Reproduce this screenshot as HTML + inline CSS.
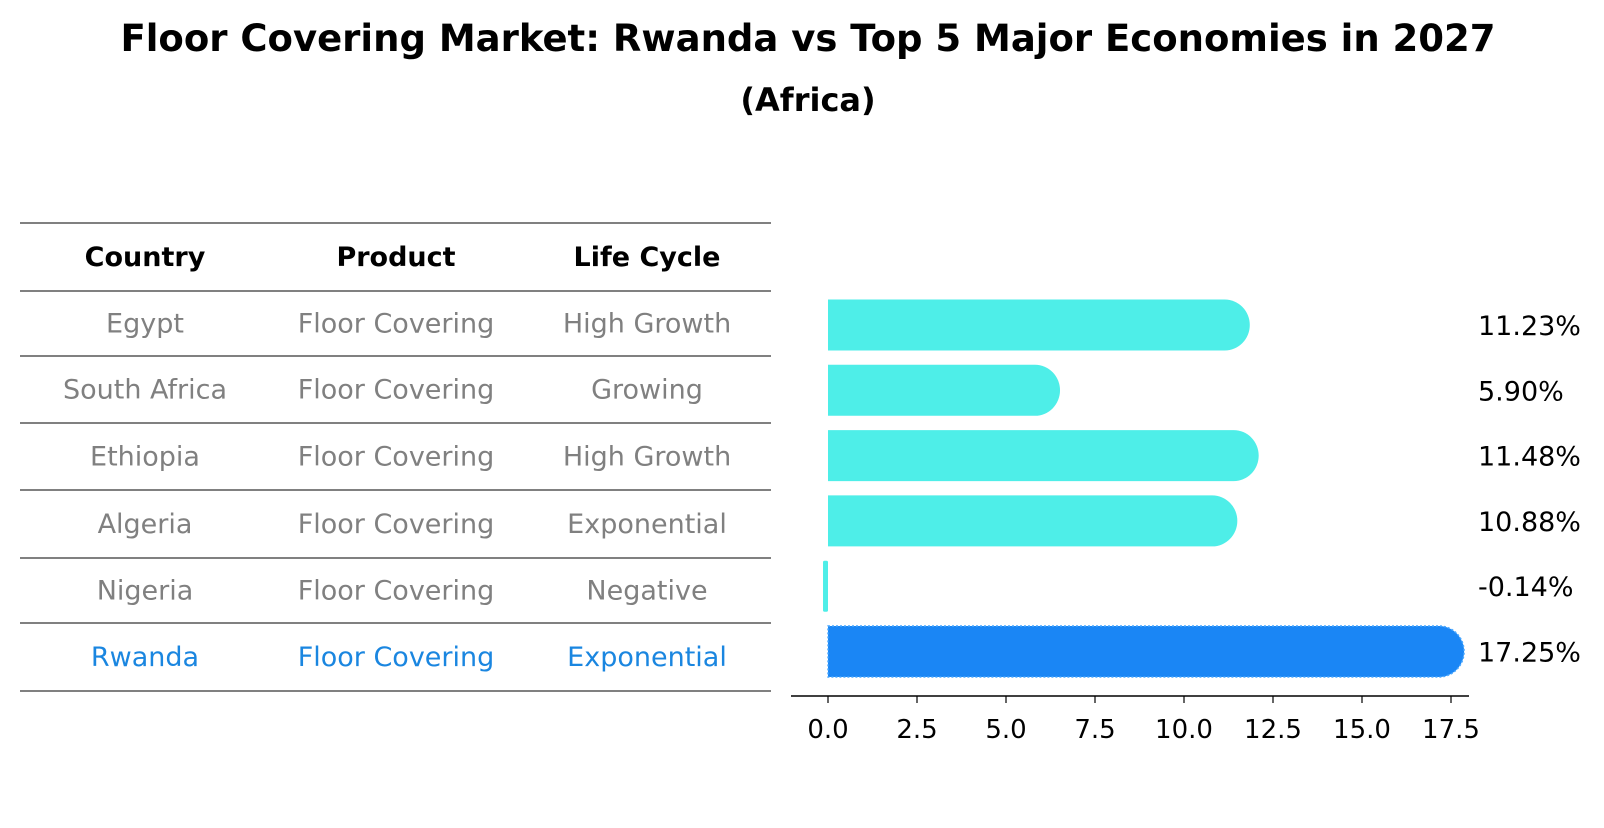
<!DOCTYPE html>
<html><head><meta charset="utf-8"><style>
body{margin:0;background:#fff;font-family:"Liberation Sans","DejaVu Sans",sans-serif;}
</style></head><body>
<svg width="1604" height="823" xmlns="http://www.w3.org/2000/svg" font-family="DejaVu Sans, Liberation Sans, sans-serif">
<text x="808" y="51" text-anchor="middle" font-size="37" font-weight="bold">Floor Covering Market: Rwanda vs Top 5 Major Economies in 2027</text>
<text x="808" y="111" text-anchor="middle" font-size="32" font-weight="bold">(Africa)</text>
<g id="table"></g>
<g id="bars"></g>
</svg>
<script>
const countries=["Egypt","South Africa","Ethiopia","Algeria","Nigeria","Rwanda"];
const products=["Floor Covering","Floor Covering","Floor Covering","Floor Covering","Floor Covering","Floor Covering"];
const lifeCycles=["High Growth","Growing","High Growth","Exponential","Negative","Exponential"];
const values=[11.23,5.90,11.48,10.88,-0.14,17.25];
const valueLabels=["11.23%","5.90%","11.48%","10.88%","-0.14%","17.25%"];
const ticks=[0,2.5,5,7.5,10,12.5,15,17.5];
const tickLabels=["0.0","2.5","5.0","7.5","10.0","12.5","15.0","17.5"];

const NS="http://www.w3.org/2000/svg";
function mk(tag,attrs,parent,text){const e=document.createElementNS(NS,tag);for(const k in attrs)e.setAttribute(k,attrs[k]);if(text!==undefined)e.textContent=text;parent.appendChild(e);return e;}
const table=document.getElementById('table');
const lines=[223,291,356,423,490,558,623,691];
lines.forEach(y=>{const l=mk('line',{x1:20,x2:771,y1:y,y2:y,stroke:'#000','stroke-width':1},table);

});
const colX=[145,396,647];
["Country","Product","Life Cycle"].forEach((h,i)=>{const t=mk('text',{x:colX[i],y:(lines[0]+lines[1])/2+9,'text-anchor':'middle','font-size':27,'font-weight':'bold'},table,h);

});
countries.forEach((c,r)=>{
  const y=(lines[r+1]+lines[r+2])/2+9;
  const col=c==="Rwanda"?"#1a86e0":"#808080";
  [c,products[r],lifeCycles[r]].forEach((v,i)=>{const t=mk('text',{x:colX[i],y:y,'text-anchor':'middle','font-size':27,fill:col},table,v);
  
  });
});
const bars=document.getElementById('bars');
const x0=828,pxPer=35.6;
const xs=v=>x0+v*pxPer;
const rowY=i=>325+i*65.3;
const h=51,r=25;
values.forEach((v,i)=>{
  const cy=rowY(i);
  const isR=countries[i]==="Rwanda";
  const fill=isR?"#1a86f5":"#4eeee8";
  let el;
  const xe=xs(v);
  if(v>=0){
    const xr=Math.max(xe-r+22,x0);
    const d=`M${x0},${cy-h/2} L${xr},${cy-h/2} A${r},${h/2} 0 0 1 ${xr},${cy+h/2} L${x0},${cy+h/2} Z`;
    el=mk('path',{d:d,fill:fill},bars);
    if(isR){el.setAttribute('stroke','#4aa8ff');el.setAttribute('stroke-dasharray','2,2');el.setAttribute('stroke-width','1.5');}
  } else {
    el=mk('rect',{x:xe,y:cy-h/2,width:Math.max(x0-xe,2),height:h,fill:fill,rx:1.5},bars);
  }
  
  
  const t=mk('text',{x:1478,y:cy+10,'font-size':27,fill:'#000'},bars,valueLabels[i]);
  
  
});
const ax=mk('line',{x1:791,x2:1469,y1:696,y2:696,stroke:'#000','stroke-width':1.5},bars);


ticks.forEach((t,i)=>{
  const x=xs(t);
  const tk=mk('line',{x1:x,x2:x,y1:696,y2:703,stroke:'#000','stroke-width':1.2},bars);
  
  
  const tl=mk('text',{x:x,y:738,'text-anchor':'middle','font-size':26},bars,tickLabels[i]);
  
  
});
</script>
</body></html>
